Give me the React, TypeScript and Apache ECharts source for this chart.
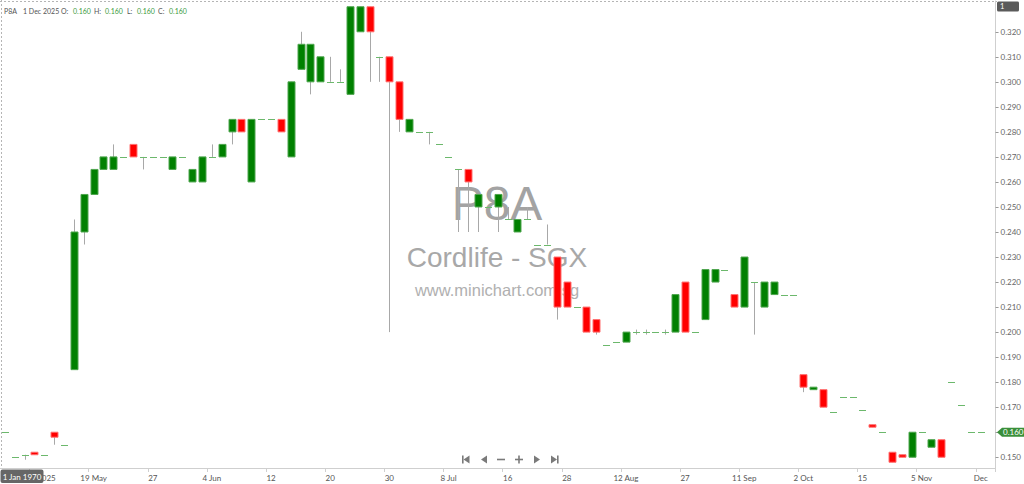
import React from "react";
import * as echarts from "echarts";

// ---------- data ----------
const dates = [
  "2025-05-05", "2025-05-06", "2025-05-07", "2025-05-08", "2025-05-09", "2025-05-13", "2025-05-14", "2025-05-15", "2025-05-16", "2025-05-19",
  "2025-05-20", "2025-05-21", "2025-05-22", "2025-05-23", "2025-05-26", "2025-05-27", "2025-05-28", "2025-05-29", "2025-05-30", "2025-06-02",
  "2025-06-03", "2025-06-04", "2025-06-05", "2025-06-06", "2025-06-09", "2025-06-10", "2025-06-11", "2025-06-12", "2025-06-13", "2025-06-16",
  "2025-06-17", "2025-06-18", "2025-06-19", "2025-06-20", "2025-06-23", "2025-06-24", "2025-06-25", "2025-06-26", "2025-06-27", "2025-06-30",
  "2025-07-01", "2025-07-02", "2025-07-03", "2025-07-04", "2025-07-07", "2025-07-08", "2025-07-09", "2025-07-10", "2025-07-11", "2025-07-14",
  "2025-07-15", "2025-07-16", "2025-07-17", "2025-07-18", "2025-07-21", "2025-07-23", "2025-07-25", "2025-07-28", "2025-07-30", "2025-07-31",
  "2025-08-04", "2025-08-06", "2025-08-08", "2025-08-12", "2025-08-14", "2025-08-15", "2025-08-19", "2025-08-21", "2025-08-25", "2025-08-27",
  "2025-08-29", "2025-09-01", "2025-09-03", "2025-09-05", "2025-09-09", "2025-09-11", "2025-09-15", "2025-09-17", "2025-09-19", "2025-09-23",
  "2025-09-26", "2025-10-02", "2025-10-03", "2025-10-06", "2025-10-08", "2025-10-09", "2025-10-13", "2025-10-15", "2025-10-17", "2025-10-22",
  "2025-10-24", "2025-10-28", "2025-10-31", "2025-11-05", "2025-11-07", "2025-11-11", "2025-11-14", "2025-11-19", "2025-11-25", "2025-12-01",
];

const opens = [
  0.160, 0.150, 0.151, 0.152, 0.151, 0.160, 0.155, 0.185, 0.240, 0.255,
  0.265, 0.265, 0.270, 0.275, 0.270, 0.270, 0.270, 0.265, 0.270, 0.260,
  0.260, 0.270, 0.270, 0.280, 0.285, 0.260, 0.285, 0.285, 0.285, 0.270,
  0.305, 0.300, 0.300, 0.300, 0.300, 0.295, 0.320, 0.330, 0.310, 0.310,
  0.300, 0.280, 0.280, 0.280, 0.275, 0.270, 0.265, 0.265, 0.250, 0.250,
  0.250, 0.245, 0.240, 0.245, 0.235, 0.235, 0.230, 0.220, 0.210, 0.210,
  0.205, 0.195, 0.196, 0.196, 0.200, 0.200, 0.200, 0.200, 0.200, 0.220,
  0.200, 0.205, 0.220, 0.225, 0.215, 0.210, 0.220, 0.210, 0.215, 0.215,
  0.215, 0.183, 0.177, 0.177, 0.168, 0.174, 0.174, 0.169, 0.163, 0.160,
  0.152, 0.151, 0.150, 0.160, 0.154, 0.157, 0.180, 0.171, 0.160, 0.160,
];

const highs = [
  0.160, 0.150, 0.151, 0.152, 0.151, 0.160, 0.155, 0.245, 0.255, 0.265,
  0.270, 0.275, 0.270, 0.275, 0.270, 0.270, 0.270, 0.270, 0.270, 0.265,
  0.270, 0.275, 0.275, 0.285, 0.285, 0.285, 0.285, 0.285, 0.285, 0.300,
  0.320, 0.315, 0.310, 0.310, 0.305, 0.330, 0.330, 0.330, 0.310, 0.310,
  0.300, 0.285, 0.280, 0.280, 0.275, 0.270, 0.265, 0.265, 0.255, 0.250,
  0.255, 0.250, 0.245, 0.250, 0.235, 0.243, 0.230, 0.220, 0.210, 0.210,
  0.205, 0.195, 0.196, 0.200, 0.201, 0.201, 0.200, 0.201, 0.215, 0.220,
  0.200, 0.225, 0.225, 0.225, 0.215, 0.230, 0.220, 0.220, 0.220, 0.215,
  0.215, 0.183, 0.178, 0.177, 0.168, 0.174, 0.174, 0.169, 0.163, 0.160,
  0.152, 0.151, 0.160, 0.160, 0.157, 0.157, 0.180, 0.171, 0.160, 0.160,
];

const lows = [
  0.160, 0.150, 0.149, 0.151, 0.151, 0.155, 0.155, 0.185, 0.235, 0.255,
  0.265, 0.265, 0.270, 0.270, 0.265, 0.270, 0.270, 0.265, 0.270, 0.260,
  0.260, 0.270, 0.270, 0.275, 0.280, 0.260, 0.285, 0.285, 0.280, 0.270,
  0.305, 0.295, 0.300, 0.300, 0.300, 0.295, 0.320, 0.300, 0.300, 0.200,
  0.280, 0.280, 0.280, 0.275, 0.275, 0.270, 0.240, 0.240, 0.240, 0.250,
  0.240, 0.245, 0.240, 0.245, 0.235, 0.235, 0.205, 0.210, 0.210, 0.200,
  0.199, 0.195, 0.196, 0.196, 0.199, 0.199, 0.200, 0.199, 0.200, 0.200,
  0.200, 0.205, 0.220, 0.225, 0.210, 0.210, 0.199, 0.210, 0.215, 0.215,
  0.215, 0.176, 0.177, 0.170, 0.168, 0.174, 0.174, 0.169, 0.162, 0.160,
  0.148, 0.150, 0.150, 0.160, 0.154, 0.150, 0.180, 0.171, 0.160, 0.160,
];

const closes = [
  0.160, 0.150, 0.151, 0.151, 0.151, 0.158, 0.155, 0.240, 0.255, 0.265,
  0.270, 0.270, 0.270, 0.270, 0.270, 0.270, 0.270, 0.270, 0.270, 0.265,
  0.270, 0.270, 0.275, 0.285, 0.280, 0.285, 0.285, 0.285, 0.280, 0.300,
  0.315, 0.315, 0.310, 0.300, 0.300, 0.330, 0.330, 0.320, 0.310, 0.300,
  0.285, 0.285, 0.280, 0.280, 0.275, 0.270, 0.265, 0.260, 0.255, 0.250,
  0.255, 0.245, 0.245, 0.245, 0.235, 0.235, 0.210, 0.210, 0.210, 0.200,
  0.200, 0.195, 0.196, 0.200, 0.200, 0.200, 0.200, 0.200, 0.215, 0.200,
  0.200, 0.225, 0.225, 0.225, 0.210, 0.230, 0.220, 0.220, 0.220, 0.215,
  0.215, 0.178, 0.178, 0.170, 0.168, 0.174, 0.174, 0.169, 0.162, 0.160,
  0.148, 0.150, 0.160, 0.160, 0.157, 0.150, 0.180, 0.171, 0.160, 0.160,
];

const tickDates = [
  "2025-05-08", "2025-05-19", "2025-05-27", "2025-06-04", "2025-06-12", "2025-06-20", "2025-06-30", "2025-07-08", "2025-07-16",
  "2025-07-28", "2025-08-12", "2025-08-27", "2025-09-11", "2025-10-02", "2025-10-15", "2025-11-05", "2025-12-01",
];
const tickLabels = [
  "8 May 2025", "19 May", "27", "4 Jun", "12", "20", "30", "8 Jul", "16",
  "28", "12 Aug", "27", "11 Sep", "2 Oct", "15", "5 Nov", "Dec",
];

const priceTicks = [0.15, 0.16, 0.17, 0.18, 0.19, 0.2, 0.21, 0.22, 0.23, 0.24, 0.25, 0.26, 0.27, 0.28, 0.29, 0.3, 0.31, 0.32];

const symbol = "P8A";
const lastDateLabel = "1 Dec 2025";

// ---------- styles ----------
const UP = "#008000";
const UP_EDGE = "#4fa64f";
const DOWN = "#ff0000";
const DOWN_EDGE = "#ff7070";
const FLAT = "#6cb86c";
const WICK = "#a8a8a8";
const FONT = "Lato, 'Noto Sans', sans-serif";
const MARK_FONT = "'Liberation Sans', Arial, sans-serif";

function renderCandle(_params: any, api: any) {
  const i = api.value(0);
  const o = api.value(1);
  const c = api.value(2);
  const l = api.value(3);
  const h = api.value(4);
  const [x, yo] = api.coord([i, o]);
  const yc = api.coord([i, c])[1];
  const yl = api.coord([i, l])[1];
  const yh = api.coord([i, h])[1];
  const w = Math.round(api.size([1, 0])[0] * 0.72);
  const cx = Math.round(x) + 0.5;
  const children: any[] = [];
  if (yl - yh > 0.5) {
    children.push({
      type: "line",
      shape: { x1: cx, y1: yh, x2: cx, y2: yl },
      style: { stroke: WICK, lineWidth: 1 },
    });
  }
  if (o === c) {
    const y = Math.round(yo) + 0.5;
    children.push({
      type: "line",
      shape: { x1: cx - w / 2, y1: y, x2: cx + w / 2, y2: y },
      style: { stroke: FLAT, lineWidth: 1 },
    });
  } else {
    const up = c > o;
    const top = Math.min(yo, yc);
    children.push({
      type: "rect",
      shape: { x: cx - w / 2, y: top, width: w, height: Math.max(Math.abs(yc - yo), 1.5) },
      style: { fill: up ? UP : DOWN, stroke: up ? UP_EDGE : DOWN_EDGE, lineWidth: 1 },
    });
  }
  return { type: "group", children };
}

function navIcons(): any[] {
  const col = "#7a7a7a";
  const cy = 459.5;
  return [
    { type: "rect", shape: { x: 462, y: cy - 4, width: 1.6, height: 8 }, style: { fill: col } },
    { type: "polygon", shape: { points: [[463.5, cy], [469.5, cy - 4], [469.5, cy + 4]] }, style: { fill: col } },
    { type: "polygon", shape: { points: [[481, cy], [487, cy - 4], [487, cy + 4]] }, style: { fill: col } },
    { type: "rect", shape: { x: 497, y: cy - 0.8, width: 8, height: 1.6 }, style: { fill: col } },
    { type: "rect", shape: { x: 515, y: cy - 0.8, width: 8, height: 1.6 }, style: { fill: col } },
    { type: "rect", shape: { x: 518.2, y: cy - 4, width: 1.6, height: 8 }, style: { fill: col } },
    { type: "polygon", shape: { points: [[534, cy - 4], [534, cy + 4], [540, cy]] }, style: { fill: col } },
    { type: "polygon", shape: { points: [[551, cy - 4], [551, cy + 4], [557, cy]] }, style: { fill: col } },
    { type: "rect", shape: { x: 557, y: cy - 4, width: 1.6, height: 8 }, style: { fill: col } },
  ].map(g => ({ ...g, z: 50, silent: true }));
}

export default function App() {
  const ref = React.useRef<HTMLDivElement>(null);

  React.useEffect(() => {
    const el = ref.current;
    if (!el) return;
    const chart = echarts.init(el, undefined, { renderer: "svg" });

    const last = dates.length - 1;
    const tickMap = new Map(tickDates.map((d, k) => [d, tickLabels[k]]));
    const showTick = (_idx: number, value: string) => tickMap.has(value);
    const seriesData = dates.map((d, i) => [i, opens[i], closes[i], lows[i], highs[i]]);
    // the last-price tag sits on top of its own axis label
    const labelTicks = priceTicks.filter(v => Math.abs(v - closes[last]) > 1e-9);

    chart.setOption({
      animation: false,
      backgroundColor: "#ffffff",
      grid: { left: 0, right: 27, top: 1, bottom: 16, containLabel: false },
      xAxis: {
        type: "category",
        data: [...dates, ""],
        boundaryGap: true,
        axisLine: { show: true, lineStyle: { color: "#cfcfcf", width: 1 } },
        axisTick: { show: true, interval: showTick, length: 4, lineStyle: { color: "#cfcfcf" } },
        axisLabel: {
          interval: showTick,
          formatter: (v: string) => tickMap.get(v) || "",
          color: "#555",
          fontSize: 8,
          fontFamily: FONT,
          margin: 6,
        },
        splitLine: { show: false },
      },
      yAxis: {
        type: "value",
        position: "right",
        min: 0.1457,
        max: 0.3323,
        scale: true,
        splitLine: { show: false },
        axisLine: { show: true, lineStyle: { color: "#cfcfcf", width: 1 } },
        axisTick: { show: true, length: 3, customValues: priceTicks, lineStyle: { color: "#9a9a9a" } },
        axisLabel: {
          customValues: labelTicks,
          formatter: (v: number) => v.toFixed(3),
          color: "#666",
          fontSize: 8,
          fontFamily: FONT,
          margin: 5,
        },
      },
      series: [
        {
          type: "custom",
          name: symbol,
          renderItem: renderCandle,
          encode: { x: 0, y: [1, 2, 3, 4] },
          data: seriesData,
          z: 5,
          clip: true,
        },
      ],
    });

    const yLast = chart.convertToPixel({ yAxisIndex: 0 }, closes[last]) as number;
    const fmt = (v: number) => v.toFixed(3);
    const green = "#3c9c3c";
    const grey = "#555";
    const header: Array<[number, string, string]> = [
      [4, symbol, grey],
      [23, lastDateLabel, grey],
      [61, "O:", grey],
      [73, fmt(opens[last]), green],
      [94, "H:", grey],
      [105, fmt(highs[last]), green],
      [127, "L:", grey],
      [137, fmt(lows[last]), green],
      [158, "C:", grey],
      [169, fmt(closes[last]), green],
    ];

    chart.setOption({
      graphic: [
        // watermark
        {
          type: "text", z: 1, silent: true, x: 497, y: 203,
          style: { text: symbol, fill: "#a3a3a3", font: `48px ${MARK_FONT}`, align: "center", verticalAlign: "middle" },
        },
        {
          type: "text", z: 1, silent: true, x: 497, y: 257,
          style: { text: "Cordlife - SGX", fill: "#a8a8a8", font: `28px ${MARK_FONT}`, align: "center", verticalAlign: "middle" },
        },
        {
          type: "text", z: 1, silent: true, x: 497, y: 290,
          style: { text: "www.minichart.com.sg", fill: "#b0b0b0", font: `16.5px ${MARK_FONT}`, align: "center", verticalAlign: "middle" },
        },
        // dashed frame
        {
          type: "line", z: 40, silent: true,
          shape: { x1: 0, y1: 1.5, x2: 997, y2: 1.5 },
          style: { stroke: "#b5b5b5", lineWidth: 1, lineDash: [2, 2] },
        },
        {
          type: "line", z: 40, silent: true,
          shape: { x1: 1.5, y1: 0, x2: 1.5, y2: 468 },
          style: { stroke: "#b5b5b5", lineWidth: 1, lineDash: [2, 2] },
        },
        // header
        ...header.map(([x, t, c]) => ({
          type: "text", z: 60, silent: true, x, y: 10.5,
          style: { text: t, fill: c, font: `7px ${FONT}`, verticalAlign: "middle" },
        })),
        // top-right "1" box
        {
          type: "rect", z: 60, silent: true,
          shape: { x: 997, y: 1.5, width: 22, height: 10, r: 1.5 },
          style: { fill: "#5a5a5a" },
        },
        {
          type: "text", z: 61, silent: true, x: 1000, y: 6.8,
          style: { text: "1", fill: "#fff", font: `7.5px ${FONT}`, verticalAlign: "middle" },
        },
        // last price tag
        {
          type: "polygon", z: 60, silent: true,
          shape: { points: [[997, yLast], [1002, yLast - 4.5], [1024, yLast - 4.5], [1024, yLast + 4.5], [1002, yLast + 4.5]] },
          style: { fill: "#3a8f3a" },
        },
        {
          type: "text", z: 61, silent: true, x: 1003, y: yLast,
          style: { text: fmt(closes[last]), fill: "#fff", font: `8px ${FONT}`, verticalAlign: "middle" },
        },
        // date tooltip box
        {
          type: "rect", z: 60, silent: true,
          shape: { x: 0.5, y: 469.5, width: 43, height: 13.5, r: 2 },
          style: { fill: "#666" },
        },
        {
          type: "text", z: 61, silent: true, x: 22, y: 476.5,
          style: { text: "1 Jan 1970", fill: "#fff", font: `8px ${FONT}`, align: "center", verticalAlign: "middle" },
        },
        ...navIcons(),
      ],
    });

    return () => {
      chart.dispose();
    };
  }, []);

  return (
    <div
      ref={ref}
      style={{ position: "fixed", left: 0, top: 0, width: 1024, height: 484, background: "#fff" }}
    />
  );
}
